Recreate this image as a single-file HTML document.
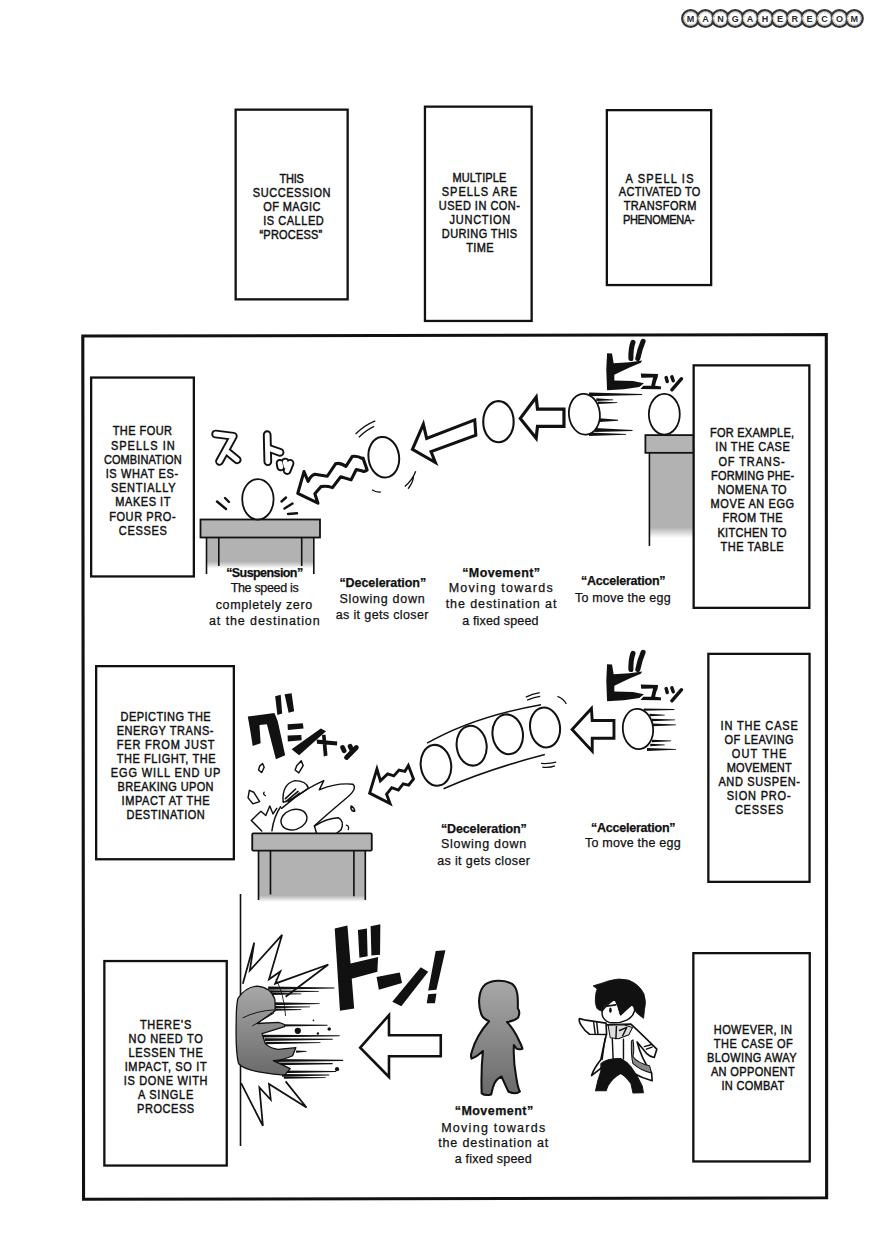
<!DOCTYPE html>
<html><head><meta charset="utf-8">
<style>
html,body{margin:0;padding:0;background:#fff;}
body{width:869px;height:1260px;position:relative;overflow:hidden;font-family:"Liberation Sans",sans-serif;color:#111;}
.b{position:absolute;box-sizing:border-box;border:2px solid #111;background:#fff;}
.t{position:absolute;font-weight:normal;font-size:11px;line-height:14px;white-space:nowrap;-webkit-text-stroke:0.4px #111;transform:scaleY(1.12);transform-origin:0 7px;}
.lb{position:absolute;font-size:12.5px;line-height:16px;white-space:nowrap;-webkit-text-stroke:0.25px #111;}
.bd{font-weight:bold;}
svg{position:absolute;left:0;top:0;}
</style></head><body>

<svg width="869" height="1260" viewBox="0 0 869 1260">
<defs>
<linearGradient id="g1" x1="0" y1="0" x2="0" y2="1">
<stop offset="0" stop-color="#b2b2b2"/><stop offset="0.62" stop-color="#b2b2b2"/><stop offset="0.78" stop-color="#fff"/>
</linearGradient>
<linearGradient id="g2" x1="0" y1="0" x2="0" y2="1">
<stop offset="0" stop-color="#b2b2b2"/><stop offset="0.84" stop-color="#b2b2b2"/><stop offset="0.96" stop-color="#fff"/>
</linearGradient>
<linearGradient id="g3" x1="0" y1="0" x2="0" y2="1">
<stop offset="0" stop-color="#a8a8a8"/><stop offset="1" stop-color="#6a6a6a"/>
</linearGradient>
</defs>
<!-- ROW1 -->
<!-- table 1 -->
<rect x="206" y="537" width="108" height="40" fill="url(#g1)"/>
<g stroke="#111" stroke-width="1.6" fill="none">
<line x1="206.5" y1="537" x2="206.5" y2="574"/><line x1="218.8" y1="537" x2="218.8" y2="566"/>
<line x1="301.7" y1="537" x2="301.7" y2="566"/><line x1="313.8" y1="537" x2="313.8" y2="574"/>
</g>
<rect x="200.5" y="519.5" width="119.5" height="18" fill="#b4b4b4" stroke="#111" stroke-width="1.8"/>
<ellipse cx="257.9" cy="499.3" rx="15.7" ry="20.2" fill="#fff" stroke="#111" stroke-width="1.8"/>
<g stroke="#111" stroke-width="2.4" stroke-linecap="round">
<line x1="217" y1="501.5" x2="226" y2="509"/><line x1="225" y1="498" x2="229" y2="502"/>
<line x1="281.5" y1="501.5" x2="286" y2="497.5"/><line x1="284.5" y1="508.5" x2="292.5" y2="503.6"/><line x1="288" y1="514" x2="297" y2="513.3"/>
</g>
<!-- ス ト ッ outlined -->
<g transform="translate(195,415) scale(0.1611)" fill="none" stroke-linecap="round" stroke-linejoin="round">
<g stroke="#111" stroke-width="54">
<path d="M128,118 L238,132 L152,288"/><path d="M200,228 L262,278"/>
<path d="M448,122 L452,290"/><path d="M452,205 L528,232"/>
<path d="M528,300 L532,322 M560,292 L566,318 M590,300 L572,345"/>
</g>
<g stroke="#fff" stroke-width="30">
<path d="M128,118 L238,132 L152,288"/><path d="M200,228 L262,278"/>
<path d="M448,122 L452,290"/><path d="M452,205 L528,232"/>
<path d="M528,300 L532,322 M560,292 L566,318 M590,300 L572,345"/>
</g>
</g>
<g transform="translate(290,440) scale(0.10356)"><path d="M75,515 L135,305 L175,400 Q200,340 240,330 L360,350 L440,230 Q480,215 540,255 L600,160 Q650,150 700,180 L705,175 L745,290 Q720,310 700,300 L640,285 L590,385 Q540,370 490,355 L410,460 Q350,440 300,450 L240,520 L270,610 Z" fill="#fff" stroke="#111" stroke-width="30" stroke-linejoin="round"/></g>
<!-- zigzag arrow 1 + egg2 + hollow arrow 2 -->
<g transform="translate(290,410) scale(0.21863)" stroke="#111" stroke-linejoin="miter">

<ellipse cx="429" cy="216" rx="70" ry="93" fill="#fff" stroke-width="9" transform="rotate(-8 429 216)"/>
<path d="M300,110 Q340,70 390,50 M315,125 Q350,90 385,75 M525,350 Q560,320 575,280 M540,360 Q565,330 565,300 M375,365 Q395,378 415,375" fill="none" stroke-width="6"/>
<path d="M560,180 L610,65 L625,130 L845,45 L850,115 L645,190 L665,240 Z" fill="#fff" stroke-width="14"/>
</g>
<!-- egg movement + hollow arrow 1 -->
<g transform="translate(470,335) scale(0.26469)" stroke="#111">
<ellipse cx="107.5" cy="327.5" rx="57.5" ry="77.5" fill="#fff" stroke-width="8"/>
<path d="M190,315 L250,235 L255,280 L355,280 L355,345 L255,345 L250,390 Z" fill="#fff" stroke-width="12"/>
</g>
<!-- accel egg + pillar -->
<g transform="translate(560,380) scale(0.16111)" stroke="#111">
<rect x="555" y="452" width="275" height="550" fill="url(#g2)" stroke="none"/>
<line x1="555" y1="452" x2="555" y2="1030" stroke-width="10"/>
<rect x="530" y="342" width="300" height="110" fill="#b4b4b4" stroke-width="11"/>
<ellipse cx="647.5" cy="212.5" rx="96" ry="126" fill="#fff" stroke-width="11"/>
<g fill="#111" stroke="none">
<path d="M180,77.8 L510,87.4 L510,93.8 L180,100.2 Z"/>
<path d="M225,114.0 L330,120.4 L330,125.2 L225,130.0 Z"/>
<path d="M235,133.0 L355,137.8 L355,142.6 L235,149.0 Z"/>
<path d="M245,237.8 L360,247.4 L360,252.2 L245,260.2 Z"/>
<path d="M215,297.2 L450,310.0 L450,316.4 L215,322.8 Z"/>
<path d="M180,326.1 L410,335.7 L410,340.5 L180,346.9 Z"/>
</g>
<ellipse cx="151.5" cy="212.5" rx="96" ry="127" fill="#fff" stroke-width="11" transform="rotate(-6 151.5 212.5)"/>
</g>
<!-- ビュッ 1 -->
<g id="byu" transform="translate(595,335) scale(0.11507)" fill="#111">
<path d="M105,158 L148,160 L162,245 L300,236 L410,222 L398,242 L300,282 L168,345 L168,395 L330,400 L425,420 L385,452 L250,472 L105,480 L98,300 Z"/>
<path d="M312,205 Q310,120 330,65 M372,205 Q390,120 418,55" stroke="#111" stroke-width="44" stroke-linecap="round" fill="none"/>
<path d="M398,335 L548,338 L545,368 Q530,400 522,440 L575,448 L572,472 L395,470 L420,440 L488,440 Q498,400 505,370 L402,372 Z"/>
<path d="M618,370 L628,404 M668,364 L680,398 M752,380 L668,476" stroke="#111" stroke-width="30" stroke-linecap="round" fill="none"/>
</g>

<!-- ROW2 -->
<!-- table 2 -->
<g transform="translate(225,830) scale(0.18413)" stroke="#111">
<rect x="182" y="112" width="580" height="290" fill="url(#g2)" stroke="none"/>
<g stroke-width="9">
<line x1="182" y1="112" x2="182" y2="380"/><line x1="247" y1="112" x2="247" y2="350"/>
<line x1="700" y1="112" x2="700" y2="360"/><line x1="762" y1="112" x2="762" y2="380"/>
</g>
<rect x="148" y="18" width="649" height="94" rx="6" fill="#b4b4b4" stroke-width="10"/>
</g>
<!-- グシャッ -->
<g transform="translate(240,685) scale(0.14959)" fill="#111">
<path d="M52,210 L230,188 L252,240 L302,470 L240,497 L180,262 L130,268 L138,390 L85,407 L68,300 Z"/>
<path d="M235,75 L272,65 L282,190 L250,200 Z M298,62 L345,55 L362,175 L325,185 Z"/>
<path d="M318,262 L420,255 L425,290 L320,300 Z M318,338 L410,335 L412,370 L320,378 Z"/>
<path d="M345,430 L540,290 L575,310 L395,470 Z"/>
<path d="M512,365 L650,378 L648,405 L515,392 Z M548,335 L572,332 L585,472 L560,478 Z"/>
<path d="M686,418 L696,440 M736,410 L746,430 M778,418 L712,485" stroke="#111" stroke-width="32" stroke-linecap="round" fill="none"/>
</g>
<!-- broken egg -->
<g transform="translate(240,760) scale(0.16111)" stroke="#111" stroke-width="9" fill="#fff" stroke-linejoin="round" stroke-linecap="round">
<path d="M122,38 L140,22 L150,45 L135,78 L115,62 Z"/>
<path d="M352,35 L380,5 L392,35 L365,80 L342,62 Z"/>
<path d="M58,188 L85,200 L122,258 L80,272 L50,235 Z"/>
<path d="M150,200 Q140,210 158,222 M660,405 Q680,410 672,432" fill="none" stroke-width="8"/>
<path d="M690,285 Q712,300 712,318 Q695,322 688,300 Z"/>
<path d="M268,262 Q258,150 340,128 Q410,128 425,175 Q390,200 350,225 Q300,255 268,262 Z"/>
<path d="M282,240 L345,180 M285,258 L360,195 M300,262 L370,205" fill="none" stroke-width="10"/>
<path d="M258,300 Q340,230 420,180 Q470,150 520,128 L492,185 Q600,140 700,150 Q735,178 650,245 Q560,320 462,408" fill="none" stroke-width="9"/>
<ellipse cx="335" cy="370" rx="82" ry="62" transform="rotate(-18 335 370)"/>
<path d="M135,440 L70,375 L130,318 L160,345 L185,285 L205,335 L228,300" fill="none" stroke-width="9"/>
<path d="M252,290 Q210,350 198,440" fill="none" stroke-width="9"/>
<path d="M462,410 Q540,360 610,358 Q650,380 628,432 L600,455 M475,455 L462,410" fill="none" stroke-width="9"/>
</g>
<!-- zigzag arrow 2 -->
<g transform="translate(360,750) scale(0.06906)">
<path d="M140,625 L245,275 L295,445 L400,345 L490,375 L565,290 L650,310 L700,225 L775,420 L705,510 L625,490 L555,580 L460,545 L385,640 L435,775 Z" fill="#fff" stroke="#111" stroke-width="42" stroke-linejoin="miter"/>
</g>
<!-- 4 eggs -->
<g transform="translate(360,690) scale(0.25316)" stroke="#111" fill="none">
<path d="M265,210 Q450,105 715,58" stroke-width="6"/>
<path d="M330,390 Q500,315 730,255" stroke-width="6"/>
<path d="M655,28 Q680,15 710,10 M660,40 Q690,28 712,25 M780,25 Q805,35 815,55 M715,290 Q750,292 775,285 M720,305 Q750,308 770,300" stroke-width="5"/>
<g fill="#fff" stroke-width="8">
<ellipse cx="300" cy="297.5" rx="60" ry="81" transform="rotate(-8 300 297.5)"/>
<ellipse cx="441" cy="220" rx="59" ry="79" transform="rotate(-8 441 220)"/>
<ellipse cx="583.5" cy="175" rx="60" ry="79" transform="rotate(-8 583.5 175)"/>
<ellipse cx="731" cy="148" rx="59" ry="79" transform="rotate(-8 731 148)"/>
</g>
</g>
<!-- hollow arrow 3 + egg E -->
<g transform="translate(560,640) scale(0.16111)" stroke="#111">
<path d="M75,555 L195,425 L200,500 L335,500 L335,610 L200,610 L200,690 Z" fill="#fff" stroke-width="18"/>
<g fill="#111" stroke="none">
<path d="M520,425.6 L710,428.8 L710,435.2 L520,438.4 Z"/>
<path d="M555,458.0 L650,464.4 L650,469.2 L555,474.0 Z"/>
<path d="M570,489.0 L715,493.8 L715,498.6 L570,505.0 Z"/>
<path d="M575,519.0 L720,523.8 L720,528.6 L575,535.0 Z"/>
<path d="M570,619.0 L690,623.8 L690,628.6 L570,635.0 Z"/>
<path d="M560,644.0 L650,648.8 L650,653.6 L560,660.0 Z"/>
<path d="M540,670.7 L720,677.1 L720,681.9 L540,688.3 Z"/>
</g>
<ellipse cx="484" cy="552.5" rx="94" ry="125" fill="#fff" stroke-width="11" transform="rotate(-5 484 552.5)"/>
</g>
<use href="#byu" transform="translate(0,311)"/>

<!-- ROW3 -->
<line x1="240.5" y1="894" x2="240.5" y2="1146" stroke="#111" stroke-width="1.6"/>
<g transform="translate(228,920) scale(0.17449)" stroke="#111">
<path d="M85,365 L150,130 L125,290 L310,85 L235,340 L300,295 L270,365 L575,255 L330,440" fill="#fff" stroke-width="10" stroke-linejoin="miter"/>
<path d="M75,935 L200,1180 L180,960 L245,1030 L235,940 L450,1075 L330,925" fill="#fff" stroke-width="10" stroke-linejoin="miter"/>
<g fill="#111" stroke="none">
<path d="M230,381.7 L610,386.5 L610,392.9 L230,399.3 Z"/>
<path d="M240,402.3 L520,407.1 L520,411.9 L240,416.7 Z"/>
<path d="M250,417.6 L420,420.8 L420,425.6 L250,430.4 Z"/>
<path d="M260,472.0 L525,476.8 L525,481.6 L260,488.0 Z"/>
<path d="M265,492.6 L470,495.8 L470,500.6 L265,505.4 Z"/>
<path d="M270,507.6 L420,510.8 L420,515.6 L270,520.4 Z"/>
<path d="M300,597.6 L570,600.8 L570,605.6 L300,610.4 Z"/>
<path d="M200,657.0 L640,660.2 L640,666.6 L200,673.0 Z"/>
<path d="M210,677.0 L600,680.2 L600,686.6 L210,693.0 Z"/>
<path d="M215,697.3 L530,700.5 L530,705.3 L215,711.7 Z"/>
<path d="M390,747.6 L450,750.8 L450,755.6 L390,760.4 Z"/>
<path d="M260,796.7 L660,801.5 L660,807.9 L260,814.3 Z"/>
<path d="M270,817.0 L600,820.2 L600,826.6 L270,833.0 Z"/>
<path d="M300,862.0 L620,865.2 L620,871.6 L300,878.0 Z"/>
<path d="M310,882.0 L580,885.2 L580,891.6 L310,898.0 Z"/>
<path d="M320,897.6 L560,900.8 L560,905.6 L320,910.4 Z"/>
<circle cx="400" cy="635" r="18"/><circle cx="580" cy="625" r="10"/><circle cx="515" cy="650" r="7"/><circle cx="625" cy="855" r="12"/><circle cx="490" cy="575" r="5"/>
</g>
<path d="M275,340 Q320,420 330,550" fill="none" stroke-width="5"/>
</g>
<g transform="translate(233,980) scale(0.080554)" stroke="#111" stroke-linejoin="round">
<path d="M60,230 Q150,90 300,75 Q470,90 520,240 L525,380 L300,540 L560,525 Q660,545 640,580 L360,665 L400,790 Q460,850 560,860 L780,840 L740,940 Q640,990 500,1000 L710,1100 L640,1180 Q500,1170 380,1150 Q150,1120 70,1040 Q30,900 40,500 Q40,320 60,230 Z" fill="url(#g3)" stroke-width="16"/>
<path d="M120,470 Q300,380 520,370 M240,570 L510,410" fill="none" stroke-width="12"/>
</g>
<!-- ドンッ! -->
<g transform="translate(325,915) scale(0.14959)" fill="#111">
<path d="M65,90 L150,70 L195,625 L100,640 Z"/>
<path d="M150,330 L355,280 L350,380 L165,430 Z"/>
<path d="M220,100 L280,90 L285,275 L230,285 Z M305,75 L370,62 L368,265 L310,270 Z"/>
<path d="M345,415 L500,385 L515,455 L360,500 Z"/>
<path d="M450,580 L640,350 L690,380 L510,610 Z"/>
<path d="M740,240 L805,235 L745,500 L690,505 Z M690,530 L745,525 L735,590 L680,590 Z"/>
</g>
<!-- big hollow arrow -->
<g transform="translate(225,890) scale(0.28769)">
<path d="M470,548 L570,435 L570,505 L750,505 L750,578 L570,578 L570,650 Z" fill="#fff" stroke="#111" stroke-width="9"/>
</g>
<!-- gray silhouette -->
<g transform="translate(460,970) scale(0.10323)">
<path d="M205,425 C170,330 180,190 245,140 C310,95 430,90 505,135 C565,180 562,280 560,372 Q588,410 562,462 Q525,492 455,505 C490,540 540,610 575,690 Q600,740 605,762 Q570,775 548,762 L522,728 C515,850 530,960 545,1040 C555,1110 565,1150 580,1178 Q545,1210 470,1180 C440,1120 420,1070 402,1032 C360,1050 330,1090 318,1140 L302,1205 Q245,1222 210,1195 C205,1050 210,900 222,785 C185,820 150,845 112,858 Q100,830 115,790 C140,700 190,600 282,497 C240,480 215,455 205,425 Z" fill="url(#g3)" stroke="#111" stroke-width="20" stroke-linejoin="round"/>
</g>
<!-- character -->
<g transform="translate(575,1015) scale(0.10356)" stroke="#111" stroke-linejoin="round" stroke-linecap="round">
<path d="M300,95 L540,88 Q640,180 790,330 L765,410 Q720,400 690,370 L600,260 Q640,420 740,560 L745,635 Q650,610 560,560 L500,470 L330,440 Q250,520 160,585 Q180,520 250,430 Q275,300 300,200 Z" fill="#fff" stroke-width="16"/>
<path d="M560,240 Q575,330 560,400 Q600,460 720,490 L738,560 Q640,540 560,470 Q540,400 545,250 Z" fill="#888" stroke-width="10"/>
<path d="M250,470 Q300,420 440,420 Q500,450 540,500 Q610,590 650,690 L660,750 L560,752 L540,660 Q490,590 440,565 Q370,600 320,680 L300,732 L198,732 Q215,640 250,540 Z" fill="#111" stroke-width="10"/>
<path d="M360,225 L368,425 M468,235 L468,425 M290,230 Q275,330 262,430 M670,305 L740,285 M690,330 L745,310" fill="none" stroke-width="14"/>
<path d="M320,100 L340,220 L420,230 L520,190 L555,120 L470,95 Z" fill="#ddd" stroke-width="10"/>
<path d="M400,110 L395,230 M430,150 L500,120 L460,200" fill="none" stroke-width="14"/>
<path d="M105,50 L300,78 L305,188 L140,186 Q90,150 60,100 Q35,60 42,35 Q70,40 105,50 Z" fill="#fff" stroke-width="16"/>
<path d="M180,70 L195,182 M210,72 L222,183" stroke-width="14"/>
</g>
<g transform="translate(575,975) scale(0.10356)" stroke="#111" stroke-linejoin="round">
<path d="M262,350 Q290,300 385,230 Q420,300 440,385 Q500,330 545,290 Q578,295 575,345 Q560,405 500,435 Q420,472 330,458 Q268,432 262,380 Z" fill="#fff" stroke-width="14"/>
<path d="M175,105 Q260,80 330,55 Q420,25 520,50 Q620,90 665,180 Q692,260 672,330 L662,418 Q622,392 592,362 L575,330 Q570,290 545,290 Q500,330 440,385 Q420,300 385,230 Q330,260 290,300 Q268,322 262,350 Q230,342 210,322 Q188,262 198,200 Q205,150 215,135 Z" fill="#111" stroke-width="8"/>
<path d="M305,302 L392,288" stroke-width="16" stroke-linecap="round"/>
<ellipse cx="342" cy="340" rx="13" ry="26" fill="#111" stroke="none"/>
</g>
<!-- logo -->
<g><circle cx="690.6" cy="18.5" r="8.4" fill="#fff" stroke="#333" stroke-width="2.3"/><circle cx="705.5" cy="18.5" r="8.4" fill="#fff" stroke="#333" stroke-width="2.3"/><circle cx="720.4" cy="18.5" r="8.4" fill="#fff" stroke="#333" stroke-width="2.3"/><circle cx="735.2" cy="18.5" r="8.4" fill="#fff" stroke="#333" stroke-width="2.3"/><circle cx="750.1" cy="18.5" r="8.4" fill="#fff" stroke="#333" stroke-width="2.3"/><circle cx="765.0" cy="18.5" r="8.4" fill="#fff" stroke="#333" stroke-width="2.3"/><circle cx="779.9" cy="18.5" r="8.4" fill="#fff" stroke="#333" stroke-width="2.3"/><circle cx="794.8" cy="18.5" r="8.4" fill="#fff" stroke="#333" stroke-width="2.3"/><circle cx="809.6" cy="18.5" r="8.4" fill="#fff" stroke="#333" stroke-width="2.3"/><circle cx="824.5" cy="18.5" r="8.4" fill="#fff" stroke="#333" stroke-width="2.3"/><circle cx="839.4" cy="18.5" r="8.4" fill="#fff" stroke="#333" stroke-width="2.3"/><circle cx="854.3" cy="18.5" r="8.4" fill="#fff" stroke="#333" stroke-width="2.3"/><circle cx="690.6" cy="18.5" r="6.6" fill="#fff" stroke="#999" stroke-width="1.2" stroke-dasharray="0.9 0.7"/><text x="690.6" y="21.8" font-family="Liberation Sans" font-weight="bold" font-size="9" text-anchor="middle" fill="#2a2a2a">M</text><circle cx="705.5" cy="18.5" r="6.6" fill="#fff" stroke="#999" stroke-width="1.2" stroke-dasharray="0.9 0.7"/><text x="705.5" y="21.8" font-family="Liberation Sans" font-weight="bold" font-size="9" text-anchor="middle" fill="#2a2a2a">A</text><circle cx="720.4" cy="18.5" r="6.6" fill="#fff" stroke="#999" stroke-width="1.2" stroke-dasharray="0.9 0.7"/><text x="720.4" y="21.8" font-family="Liberation Sans" font-weight="bold" font-size="9" text-anchor="middle" fill="#2a2a2a">N</text><circle cx="735.2" cy="18.5" r="6.6" fill="#fff" stroke="#999" stroke-width="1.2" stroke-dasharray="0.9 0.7"/><text x="735.2" y="21.8" font-family="Liberation Sans" font-weight="bold" font-size="9" text-anchor="middle" fill="#2a2a2a">G</text><circle cx="750.1" cy="18.5" r="6.6" fill="#fff" stroke="#999" stroke-width="1.2" stroke-dasharray="0.9 0.7"/><text x="750.1" y="21.8" font-family="Liberation Sans" font-weight="bold" font-size="9" text-anchor="middle" fill="#2a2a2a">A</text><circle cx="765.0" cy="18.5" r="6.6" fill="#fff" stroke="#999" stroke-width="1.2" stroke-dasharray="0.9 0.7"/><text x="765.0" y="21.8" font-family="Liberation Sans" font-weight="bold" font-size="9" text-anchor="middle" fill="#2a2a2a">H</text><circle cx="779.9" cy="18.5" r="6.6" fill="#fff" stroke="#999" stroke-width="1.2" stroke-dasharray="0.9 0.7"/><text x="779.9" y="21.8" font-family="Liberation Sans" font-weight="bold" font-size="9" text-anchor="middle" fill="#2a2a2a">E</text><circle cx="794.8" cy="18.5" r="6.6" fill="#fff" stroke="#999" stroke-width="1.2" stroke-dasharray="0.9 0.7"/><text x="794.8" y="21.8" font-family="Liberation Sans" font-weight="bold" font-size="9" text-anchor="middle" fill="#2a2a2a">R</text><circle cx="809.6" cy="18.5" r="6.6" fill="#fff" stroke="#999" stroke-width="1.2" stroke-dasharray="0.9 0.7"/><text x="809.6" y="21.8" font-family="Liberation Sans" font-weight="bold" font-size="9" text-anchor="middle" fill="#2a2a2a">E</text><circle cx="824.5" cy="18.5" r="6.6" fill="#fff" stroke="#999" stroke-width="1.2" stroke-dasharray="0.9 0.7"/><text x="824.5" y="21.8" font-family="Liberation Sans" font-weight="bold" font-size="9" text-anchor="middle" fill="#2a2a2a">C</text><circle cx="839.4" cy="18.5" r="6.6" fill="#fff" stroke="#999" stroke-width="1.2" stroke-dasharray="0.9 0.7"/><text x="839.4" y="21.8" font-family="Liberation Sans" font-weight="bold" font-size="9" text-anchor="middle" fill="#2a2a2a">O</text><circle cx="854.3" cy="18.5" r="6.6" fill="#fff" stroke="#999" stroke-width="1.2" stroke-dasharray="0.9 0.7"/><text x="854.3" y="21.8" font-family="Liberation Sans" font-weight="bold" font-size="9" text-anchor="middle" fill="#2a2a2a">M</text></g>
<!-- ROWSEND -->
</svg>
<!-- top boxes -->
<svg width="869" height="1260" viewBox="0 0 869 1260">
<polygon points="82.8,336.05 826.3,334.65 826.65,1197.8 83.55,1199.3" fill="none" stroke="#111" stroke-width="3.1" stroke-linejoin="miter"/>
<rect x="235.65" y="109.65" width="112.00" height="189.70" fill="#fff" stroke="#111" stroke-width="2.3"/>
<rect x="424.95" y="106.65" width="106.70" height="214.30" fill="#fff" stroke="#111" stroke-width="2.3"/>
<rect x="606.85" y="110.15" width="104.30" height="174.90" fill="#fff" stroke="#111" stroke-width="2.3"/>
<rect x="91.15" y="377.55" width="102.70" height="198.90" fill="#fff" stroke="#111" stroke-width="2.3"/>
<rect x="693.65" y="365.35" width="115.70" height="242.50" fill="#fff" stroke="#111" stroke-width="2.3"/>
<rect x="96.15" y="666.15" width="137.70" height="193.10" fill="#fff" stroke="#111" stroke-width="2.3"/>
<rect x="708.35" y="653.85" width="101.20" height="228.00" fill="#fff" stroke="#111" stroke-width="2.3"/>
<rect x="104.35" y="961.05" width="122.40" height="204.50" fill="#fff" stroke="#111" stroke-width="2.3"/>
<rect x="693.35" y="953.15" width="116.40" height="208.30" fill="#fff" stroke="#111" stroke-width="2.3"/>
</svg>


<!-- panel -->



<!-- box text -->
<div class="t" style="left:279.5px;top:171.8px;letter-spacing:-0.25px">THIS</div>
<div class="t" style="left:252.8px;top:185.9px;letter-spacing:0.55px">SUCCESSION</div>
<div class="t" style="left:263.2px;top:200.0px;letter-spacing:0.42px">OF MAGIC</div>
<div class="t" style="left:263.2px;top:214.1px;letter-spacing:0.54px">IS CALLED</div>
<div class="t" style="left:259.5px;top:228.2px;letter-spacing:0.20px">“PROCESS”</div>
<div class="t" style="left:452.5px;top:170.8px;letter-spacing:0.13px">MULTIPLE</div>
<div class="t" style="left:441.8px;top:184.8px;letter-spacing:0.96px">SPELLS ARE</div>
<div class="t" style="left:438.8px;top:198.8px;letter-spacing:0.49px">USED IN CON-</div>
<div class="t" style="left:449.6px;top:212.8px;letter-spacing:0.73px">JUNCTION</div>
<div class="t" style="left:441.8px;top:226.8px;letter-spacing:0.40px">DURING THIS</div>
<div class="t" style="left:466.2px;top:240.8px;letter-spacing:0.37px">TIME</div>
<div class="t" style="left:625.6px;top:171.5px;letter-spacing:1.20px">A SPELL IS</div>
<div class="t" style="left:618.8px;top:185.3px;letter-spacing:0.32px">ACTIVATED TO</div>
<div class="t" style="left:623.7px;top:199.2px;letter-spacing:0.37px">TRANSFORM</div>
<div class="t" style="left:622.9px;top:213.0px;letter-spacing:-0.32px">PHENOMENA-</div>
<div class="t" style="left:112.7px;top:424.3px;letter-spacing:0.45px">THE FOUR</div>
<div class="t" style="left:110.9px;top:438.5px;letter-spacing:1.02px">SPELLS IN</div>
<div class="t" style="left:103.9px;top:452.7px;letter-spacing:0.10px">COMBINATION</div>
<div class="t" style="left:105.7px;top:466.9px;letter-spacing:0.63px">IS WHAT ES-</div>
<div class="t" style="left:110.9px;top:481.1px;letter-spacing:0.77px">SENTIALLY</div>
<div class="t" style="left:115.3px;top:495.3px;letter-spacing:0.54px">MAKES IT</div>
<div class="t" style="left:109.2px;top:509.5px;letter-spacing:0.58px">FOUR PRO-</div>
<div class="t" style="left:118.8px;top:523.7px;letter-spacing:0.69px">CESSES</div>
<div class="t" style="left:710.0px;top:426.2px;letter-spacing:0.25px">FOR EXAMPLE,</div>
<div class="t" style="left:715.3px;top:440.4px;letter-spacing:0.57px">IN THE CASE</div>
<div class="t" style="left:718.4px;top:454.6px;letter-spacing:0.89px">OF TRANS-</div>
<div class="t" style="left:711.1px;top:468.8px;letter-spacing:0.16px">FORMING PHE-</div>
<div class="t" style="left:717.4px;top:483.0px;letter-spacing:0.46px">NOMENA TO</div>
<div class="t" style="left:710.6px;top:497.2px;letter-spacing:0.59px">MOVE AN EGG</div>
<div class="t" style="left:722.6px;top:511.4px;letter-spacing:0.38px">FROM THE</div>
<div class="t" style="left:717.4px;top:525.6px;letter-spacing:0.34px">KITCHEN TO</div>
<div class="t" style="left:720.5px;top:539.8px;letter-spacing:0.53px">THE TABLE</div>
<div class="t" style="left:120.6px;top:709.8px;letter-spacing:0.44px">DEPICTING THE</div>
<div class="t" style="left:116.7px;top:723.8px;letter-spacing:0.56px">ENERGY TRANS-</div>
<div class="t" style="left:116.7px;top:737.9px;letter-spacing:0.82px">FER FROM JUST</div>
<div class="t" style="left:116.7px;top:751.9px;letter-spacing:0.57px">THE FLIGHT, THE</div>
<div class="t" style="left:110.8px;top:765.9px;letter-spacing:0.87px">EGG WILL END UP</div>
<div class="t" style="left:117.6px;top:780.0px;letter-spacing:0.35px">BREAKING UPON</div>
<div class="t" style="left:121.6px;top:794.0px;letter-spacing:0.59px">IMPACT AT THE</div>
<div class="t" style="left:126.5px;top:808.0px;letter-spacing:0.51px">DESTINATION</div>
<div class="t" style="left:720.5px;top:719.2px;letter-spacing:0.85px">IN THE CASE</div>
<div class="t" style="left:724.6px;top:733.1px;letter-spacing:0.43px">OF LEAVING</div>
<div class="t" style="left:731.8px;top:747.1px;letter-spacing:1.13px">OUT THE</div>
<div class="t" style="left:726.7px;top:761.0px;letter-spacing:0.21px">MOVEMENT</div>
<div class="t" style="left:718.4px;top:774.9px;letter-spacing:0.63px">AND SUSPEN-</div>
<div class="t" style="left:726.7px;top:788.9px;letter-spacing:0.81px">SION PRO-</div>
<div class="t" style="left:734.9px;top:802.8px;letter-spacing:0.77px">CESSES</div>
<div class="t" style="left:139.9px;top:1017.6px;letter-spacing:0.74px">THERE’S</div>
<div class="t" style="left:128.5px;top:1031.6px;letter-spacing:0.69px">NO NEED TO</div>
<div class="t" style="left:128.5px;top:1045.6px;letter-spacing:0.67px">LESSEN THE</div>
<div class="t" style="left:124.7px;top:1059.6px;letter-spacing:0.63px">IMPACT, SO IT</div>
<div class="t" style="left:123.8px;top:1073.6px;letter-spacing:0.67px">IS DONE WITH</div>
<div class="t" style="left:138.0px;top:1087.6px;letter-spacing:0.74px">A SINGLE</div>
<div class="t" style="left:137.1px;top:1101.6px;letter-spacing:0.55px">PROCESS</div>
<div class="t" style="left:713.8px;top:1023.3px;letter-spacing:0.41px">HOWEVER, IN</div>
<div class="t" style="left:713.8px;top:1037.2px;letter-spacing:0.57px">THE CASE OF</div>
<div class="t" style="left:707.1px;top:1051.1px;letter-spacing:0.39px">BLOWING AWAY</div>
<div class="t" style="left:710.9px;top:1065.0px;letter-spacing:0.37px">AN OPPONENT</div>
<div class="t" style="left:721.4px;top:1078.9px;letter-spacing:0.31px">IN COMBAT</div>
<!-- labels -->
<div class="lb bd" style="left:226.2px;top:564.7px;letter-spacing:-0.58px">“Suspension”</div>
<div class="lb" style="left:230.7px;top:580.3px;letter-spacing:-0.33px">The speed is</div>
<div class="lb" style="left:215.7px;top:596.8px;letter-spacing:0.64px">completely zero</div>
<div class="lb" style="left:209.0px;top:613.3px;letter-spacing:0.91px">at the destination</div>
<div class="lb bd" style="left:339.4px;top:575.4px;letter-spacing:-0.06px">“Deceleration”</div>
<div class="lb" style="left:339.4px;top:591.1px;letter-spacing:0.74px">Slowing down</div>
<div class="lb" style="left:335.7px;top:606.8px;letter-spacing:0.37px">as it gets closer</div>
<div class="lb bd" style="left:462.2px;top:564.7px;letter-spacing:0.39px">“Movement”</div>
<div class="lb" style="left:448.7px;top:580.3px;letter-spacing:1.27px">Moving towards</div>
<div class="lb" style="left:445.7px;top:596.1px;letter-spacing:0.91px">the destination at</div>
<div class="lb" style="left:462.2px;top:612.5px;letter-spacing:0.16px">a fixed speed</div>
<div class="lb bd" style="left:581.0px;top:573.1px;letter-spacing:-0.23px">“Acceleration”</div>
<div class="lb" style="left:575.0px;top:589.6px;letter-spacing:0.23px">To move the egg</div>
<div class="lb bd" style="left:440.9px;top:820.8px;letter-spacing:-0.12px">“Deceleration”</div>
<div class="lb" style="left:440.9px;top:836.4px;letter-spacing:0.74px">Slowing down</div>
<div class="lb" style="left:437.2px;top:852.6px;letter-spacing:0.37px">as it gets closer</div>
<div class="lb bd" style="left:591.0px;top:819.7px;letter-spacing:-0.23px">“Acceleration”</div>
<div class="lb" style="left:585.0px;top:835.3px;letter-spacing:0.23px">To move the egg</div>
<div class="lb bd" style="left:454.7px;top:1103.1px;letter-spacing:0.46px">“Movement”</div>
<div class="lb" style="left:441.2px;top:1119.6px;letter-spacing:1.27px">Moving towards</div>
<div class="lb" style="left:438.2px;top:1135.3px;letter-spacing:0.87px">the destination at</div>
<div class="lb" style="left:454.7px;top:1151.0px;letter-spacing:0.22px">a fixed speed</div>
</body></html>
